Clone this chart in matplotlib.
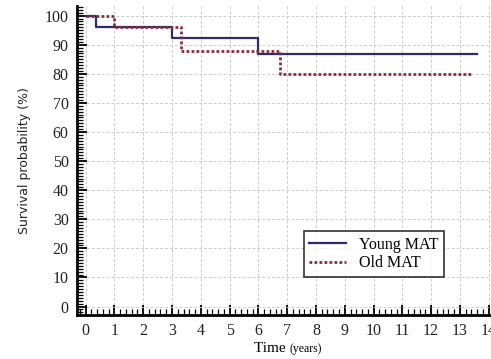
import matplotlib.pyplot as plt
from matplotlib.ticker import MultipleLocator

# Kaplan-Meier step data (time in years, survival in %)
young_t = [0, 0.35, 3.0, 6.0, 13.6]
young_s = [100, 96, 92.3, 86.7, 86.7]
old_t = [0, 1.0, 3.3, 6.75, 13.4]
old_s = [100, 96, 88, 80, 80]

xticks = list(range(0, 15))
yticks = list(range(0, 101, 10))

fig = plt.figure(figsize=(4.91, 3.59), dpi=100)
ax = fig.add_axes([77 / 491, 1 - 315 / 359, 1 - 77 / 491, (315 - 6) / 359])

ax.step(young_t, young_s, where='post', color='#2e2a6e', lw=1.6, label='Young MAT')
ax.step(old_t, old_s, where='post', color='#8a2d3b', lw=2.0, ls=(0, (1, 0.8)),
        label='Old MAT')

ax.set_xlim(-0.3, 14.08)
ax.set_ylim(-2.9, 103.3)
ax.set_xticks(xticks)
ax.set_yticks(yticks)
ax.xaxis.set_minor_locator(MultipleLocator(0.2))
ax.yaxis.set_minor_locator(MultipleLocator(1))
ax.grid(True, which='major', color='#cccccc', ls=(0, (3, 2)), lw=0.7)

for side in ['top', 'right']:
    ax.spines[side].set_visible(False)
for side in ['left', 'bottom']:
    ax.spines[side].set_linewidth(2)

ax.tick_params(which='major', direction='in', length=7, width=1.3, pad=6,
               labelsize=11.5, colors='black')
ax.tick_params(which='minor', direction='in', length=4, width=0.9)
for lbl in ax.get_xticklabels() + ax.get_yticklabels():
    lbl.set_fontfamily('Liberation Serif')
    lbl.set_color('#222222')

ax.set_ylabel('Survival probability (%)', fontsize=9, family='DejaVu Sans',
              color='#222222', labelpad=10)
fig.text(0.59, 0.012, 'Time ', fontsize=11, family='Liberation Serif',
         ha='right', va='bottom')
fig.text(0.59, 0.012, '(years)', fontsize=8.5, family='Liberation Serif',
         ha='left', va='bottom')

leg = ax.legend(loc='lower left', bbox_to_anchor=(0.548, 0.124),
                prop={'family': 'Liberation Serif', 'size': 11.5},
                frameon=True, fancybox=False, edgecolor='black',
                handlelength=2.3, handletextpad=0.8, borderpad=0.35,
                labelspacing=0.15, borderaxespad=0)
leg.get_frame().set_linewidth(1.2)

fig.savefig('out.png', dpi=100)
